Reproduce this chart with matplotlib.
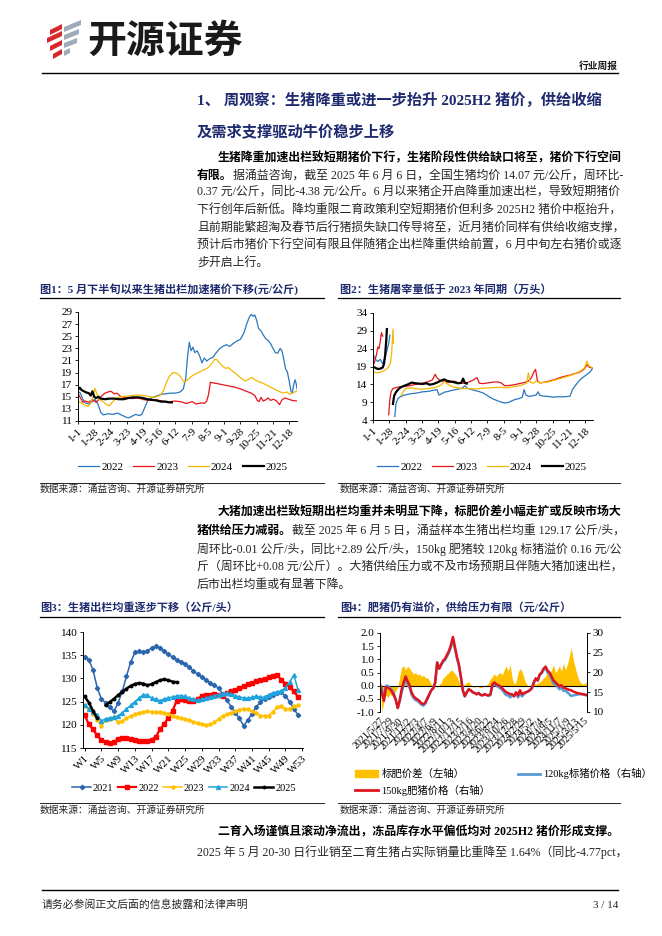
import matplotlib
matplotlib.use("Agg")
import matplotlib.pyplot as plt
import numpy as np
from matplotlib.patches import Polygon, Patch
from matplotlib.lines import Line2D

W, H = 662, 936
SERIF = ["Liberation Serif", "Noto Sans CJK SC"]
CJK = ["Noto Sans CJK SC", "DejaVu Sans"]
plt.rcParams["font.family"] = SERIF
plt.rcParams["axes.linewidth"] = 0.7

NAVY = "#1d2a6e"
TXT = "#262626"
BLUE = "#2a78bd"
RED = "#e8141b"
GOLD = "#f5b800"
LBLUE = "#1fa3dc"

# ---- chart 1: hog price by day of year (yuan/kg) ----
MD_LABELS = ["1-1", "1-28", "2-24", "3-23", "4-19", "5-16", "6-12", "7-9",
             "8-5", "9-1", "9-28", "10-25", "11-21", "12-18"]
day_p22 = [0, 4, 8, 12, 18, 24, 28, 33, 38, 42, 50, 58, 66, 72, 78, 84, 90, 96, 102, 106,
           110, 116, 122, 130, 138, 146, 154, 162, 170, 175, 179, 182, 185, 188, 191, 194,
           198, 202, 206, 210, 214, 219, 224, 230, 236, 242, 247, 252, 258, 264, 270, 276,
           281, 285, 288, 291, 294, 297, 300, 304, 308, 312, 316, 320, 324, 328, 332, 336,
           339, 342, 345, 348, 351, 354, 356, 359, 361, 363, 364]
price_2022 = [15.9, 15.6, 14.6, 14.0, 13.8, 14.2, 14.6, 13.8, 12.4, 12.0, 12.2, 12.1, 12.3,
              12.0, 11.7, 11.5, 11.8, 12.1, 11.9, 12.1, 13.0, 14.4, 14.8, 15.1, 15.4, 15.5,
              15.6, 15.6, 15.8, 16.3, 18.0, 21.5, 24.0, 22.6, 23.2, 22.3, 22.6, 21.8, 20.6,
              21.4, 20.9, 21.3, 21.5, 22.3, 23.0, 23.4, 23.6, 23.3, 23.8, 24.2, 24.5, 25.6,
              27.2, 28.2, 28.6, 28.3, 28.5, 27.6, 26.3, 25.9, 25.2, 24.6, 24.3, 23.8, 23.0,
              22.3, 22.2, 23.0, 22.6, 21.2, 19.6, 19.1, 17.6, 15.9, 15.6, 17.2, 17.8, 17.0, 16.3]
day_p23 = [0, 4, 8, 12, 18, 24, 30, 35, 40, 45, 50, 55, 60, 65, 70, 80, 90, 100, 110, 120,
           130, 140, 150, 160, 170, 180, 190, 196, 205, 210, 214, 217, 220, 224, 230, 240,
           250, 260, 270, 280, 288, 294, 298, 301, 304, 308, 312, 316, 320, 325, 330, 335,
           339, 344, 350, 356, 364]
price_2023 = [15.6, 14.8, 14.1, 14.3, 14.1, 14.5, 14.1, 14.6, 15.2, 15.6, 15.8, 15.9, 15.5,
              15.6, 15.1, 14.8, 14.7, 14.8, 14.5, 14.4, 14.5, 14.3, 14.1, 14.3, 14.2, 13.9,
              14.2, 13.8, 14.0, 13.9, 14.3, 15.4, 17.4, 17.3, 17.2, 17.0, 16.8, 16.6, 16.3,
              15.9, 15.6, 15.2, 14.4, 14.2, 14.9, 14.3, 14.5, 14.8, 14.4, 14.6, 14.3, 13.7,
              14.5, 14.8, 14.6, 14.4, 14.3]
day_p24 = [0, 5, 10, 16, 21, 25, 28, 31, 35, 40, 46, 52, 58, 64, 72, 80, 90, 100, 110, 120,
           128, 136, 142, 147, 152, 158, 164, 168, 172, 176, 180, 186, 192, 200, 208, 216,
           222, 227, 231, 235, 240, 245, 250, 255, 260, 266, 272, 278, 284, 289, 294, 300,
           306, 312, 318, 324, 330, 336, 342, 347, 352, 356, 360, 364]
price_2024 = [14.3, 14.0, 13.7, 13.4, 13.9, 15.0, 16.4, 15.6, 14.6, 14.3, 13.8, 13.5, 14.2,
              14.8, 15.0, 15.1, 15.2, 15.3, 15.2, 15.0, 14.9, 15.2, 16.0, 17.4, 18.4, 19.0,
              18.9, 18.6, 18.1, 17.4, 17.6, 18.2, 18.6, 19.0, 19.4, 19.8, 20.4, 21.2, 21.1,
              20.6, 20.1, 19.7, 19.8, 19.4, 19.0, 18.5, 18.0, 17.6, 17.9, 18.2, 17.8, 17.5,
              17.3, 17.0, 16.7, 16.4, 16.1, 15.8, 15.6, 15.8, 15.4, 15.6, 15.8, 15.9]
day_p25 = [0, 3, 6, 10, 14, 18, 21, 24, 27, 30, 34, 38, 45, 52, 60, 68, 76, 84, 92, 100,
           108, 115, 122, 130, 138, 146, 150, 156]
price_2025 = [16.2, 16.5, 16.1, 15.9, 15.7, 15.6, 15.2, 15.9, 15.0, 14.8, 15.0, 14.7, 14.6,
              14.7, 14.7, 14.6, 14.6, 14.8, 14.9, 14.9, 14.8, 14.6, 14.5, 14.4, 14.2, 14.2,
              14.1, 14.07]

# ---- chart 2: daily slaughter volume (10k head), gaps around Spring Festival ----
day_v22 = [0, 4, 8, 12, 16, 20, 23, 26, 28, 32, 36, 38, 41, 46, 52, 58, 64, 70, 76, 82, 90,
           96, 102, 106, 109, 113, 118, 124, 130, 136, 142, 148, 152, 156, 162, 168, 175,
           182, 188, 194, 200, 206, 212, 218, 224, 230, 236, 242, 247, 250, 253, 258, 264,
           270, 273, 276, 282, 290, 298, 306, 314, 322, 326, 330, 334, 340, 346, 352, 358, 364]
vol_2022 = [22.5, 21.0, 20.4, 21.0, 19.8, 21.5, 23.5, 25.5, 27.8, np.nan, 5.0, 8.5, 10.0,
            10.6, 11.0, 11.2, 11.4, 11.5, 11.7, 11.9, 12.0, 12.2, 12.4, 12.5, 11.0, 11.3,
            11.8, 12.0, 12.3, 12.5, 12.7, 13.0, 13.6, 12.9, 12.6, 12.3, 12.0, 11.6, 11.0,
            10.3, 9.8, 9.4, 9.0, 8.8, 8.9, 9.4, 9.8, 10.0, 10.4, 12.5, 11.0, 10.6, 10.8,
            11.0, 11.9, 10.9, 10.7, 10.6, 10.4, 10.5, 10.5, 10.6, 10.7, 12.5, 13.5, 14.8,
            15.8, 16.5, 17.3, 18.5]
day_v23 = [0, 3, 6, 8, 10, 12, 14, 16, 20, 26, 28, 30, 33, 38, 45, 52, 60, 68, 76, 84, 92,
           98, 103, 106, 110, 118, 126, 134, 142, 150, 158, 166, 172, 176, 182, 190, 198,
           206, 212, 218, 226, 234, 242, 250, 256, 262, 266, 269, 272, 276, 284, 292, 300,
           308, 316, 324, 332, 340, 346, 350, 354, 358, 364]
vol_2023 = [19.0, 20.5, 22.5, 24.5, 24.0, 26.0, 28.5, 27.5, np.nan, 5.5, 10.0, 12.0, 12.8,
            13.1, 13.3, 13.4, 13.6, 13.9, 14.1, 14.4, 14.8, 15.2, 16.8, 15.8, 15.2, 14.8,
            14.5, 14.9, 14.4, 14.3, 14.6, 15.2, 15.9, 14.3, 14.2, 14.4, 14.6, 14.7, 14.4,
            13.6, 13.7, 13.9, 14.2, 14.5, 14.8, 15.8, 17.4, 18.2, 15.0, 14.4, 14.6, 14.9,
            15.3, 15.8, 16.2, 16.5, 16.9, 17.3, 17.8, 18.4, 19.5, 18.8, 18.5]
day_v24 = [0, 5, 10, 15, 20, 25, 29, 31, 33, 34, 40, 46, 50, 54, 60, 70, 80, 90, 100, 108,
           114, 118, 122, 128, 134, 140, 150, 160, 170, 180, 190, 200, 210, 220, 230, 240,
           248, 254, 257, 260, 265, 270, 275, 285, 295, 305, 315, 325, 335, 345, 350, 354,
           357, 364]
vol_2024 = [17.5, 17.2, 17.3, 17.6, 18.0, 18.7, 20.0, 23.0, 29.5, 25.5, np.nan, 10.8, 12.0,
            12.8, 13.0, 12.8, 12.6, 12.8, 13.0, 13.4, 14.0, 14.9, 14.2, 13.6, 13.2, 13.0,
            12.8, 12.8, 12.7, 12.9, 13.0, 13.1, 13.2, 13.0, 13.3, 13.5, 13.9, 14.3, 17.2,
            14.6, 14.3, 14.9, 14.5, 14.5, 14.9, 15.4, 15.9, 16.4, 17.0, 17.9, 18.6, 20.5,
            19.2, 18.5]
day_v25 = [0, 4, 8, 12, 16, 18, 20, 22, 23, 28, 33, 35, 38, 42, 46, 52, 58, 64, 70, 76, 82,
           88, 94, 100, 106, 112, 118, 122, 128, 134, 140, 146, 149, 152, 155]
vol_2025 = [19.0, 18.6, 18.3, 18.4, 18.7, 19.6, 22.0, 26.5, 29.5, np.nan, 8.5, 10.8, 11.8,
            12.6, 13.2, 13.6, 14.0, 14.5, 14.3, 14.2, 14.1, 14.3, 13.9, 14.1, 14.5, 15.0,
            15.4, 15.0, 14.8, 14.6, 14.3, 14.4, 15.6, 14.4, 14.2]

# ---- chart 3: average slaughter weight by week (kg/head) ----
WEEK_LABELS = ["W%d" % w for w in range(1, 54, 4)]
wt_2021 = [134.6, 134.0, 131.8, 128.0, 125.5, 124.8, 123.8, 122.9, 124.8, 127.2, 130.5,
           133.5, 135.6, 135.8, 135.7, 136.0, 136.5, 136.9, 136.6, 135.8, 135.2, 134.6,
           134.0, 133.6, 133.1, 132.4, 131.6, 130.9, 130.3, 129.7, 129.0, 128.6, 127.9,
           126.7, 125.3, 123.9, 122.6, 121.4, 119.8, 121.0, 122.4, 123.8, 124.9, 125.5,
           126.0, 126.5, 126.9, 127.0, 126.2, 125.0, 123.5, 122.1]
wt_2022 = [122.1, 120.1, 119.0, 117.7, 116.7, 116.2, 116.1, 116.4, 116.9, 117.1, 117.1,
           116.9, 116.7, 116.6, 116.5, 116.6, 116.8, 117.4, 119.0, 120.2, 121.5, 123.0,
           125.2, 125.5, 125.3, 125.2, 125.1, 125.6, 126.2, 126.4, 126.5, 126.6, 126.4,
           126.3, 126.9, 127.3, 127.6, 127.9, 128.3, 128.7, 129.1, 129.4, 129.7, 129.9,
           130.2, 130.5, 130.8, 129.7, 128.9, 128.1, 127.2, 126.0]
wt_2023 = [124.0, 123.3, 122.3, 121.0, 119.8, 121.0, 121.3, 121.6, 120.5, 120.8, 121.4,
           121.9, 122.3, 122.6, 122.8, 122.9, 122.8, 122.7, 122.7, 122.6, 122.4, 122.0,
           121.6, 121.4, 121.2, 121.0, 120.7, 120.4, 120.2, 120.0, 120.1, 120.5, 121.3,
           121.9, 122.3, 122.6, 122.9, 123.2, 123.5, 123.3, 123.0, 122.6, 122.0, 121.9,
           122.0, 122.8, 123.8, 124.1, 123.4, 123.5, 124.0, 124.2]
wt_2024 = [124.3, 123.5, 122.8, 122.2, 120.8, 121.3, 121.5, 121.6, 121.9, 122.6, 123.4,
           124.2, 125.0, 125.7, 126.5, 126.4, 125.8, 125.5, 125.2, 125.5, 125.8, 126.0,
           126.2, 126.3, 126.1, 125.8, 125.5, 125.3, 125.5, 125.7, 126.0, 126.3, 126.5,
           126.7, 126.8, 126.6, 126.3, 126.0, 125.8, 125.7, 125.9, 126.2, 125.9, 126.0,
           126.5, 126.9, 127.1, 127.3, 128.0, 129.2, 130.7, 127.6]
wt_2025 = [126.1, 124.8, 123.0, 121.4, np.nan, 124.2, 124.9, 125.6, 126.4, 127.1, 127.8,
           128.4, 128.8, 129.0, 128.9, 128.5, 128.8, 129.2, 129.6, 129.8, 129.6, 129.3,
           129.17]

# ---- chart 4: fat/standard hog spread (left) and prices (right), biweekly from 2021/5/27 ----
DATE_LABELS = ["2021/5/27", "2021/7/29", "2021/9/30", "2021/12/2", "2022/2/3", "2022/4/7",
               "2022/6/9", "2022/8/11", "2022/10/13", "2022/12/15", "2023/2/16", "2023/4/20",
               "2023/6/22", "2023/8/24", "2023/10/26", "2023/12/28", "2024/2/29", "2024/5/2",
               "2024/7/4", "2024/9/5", "2024/11/7", "2025/1/9", "2025/3/13", "2025/5/15"]
spread = [0.15, -1.0, -0.55, -0.35, -0.45, -0.3, -0.4, -0.35, -0.2, -0.05,
          0.35, 0.7, 0.75, 0.6, 0.75, 0.65, 0.55, 0.45, 0.5, 0.4,
          0.45, 0.35, 0.4, 0.3, 0.3, 0.2, 0.05, -0.05, 0.02, -0.05,
          0.05, 0.1, 0.3, 0.35, 0.45, 0.5, 0.6, 0.55, 0.45, 0.35,
          0.15, 0.02, 0.0, 0.05, 0.12, 0.15, 0.05, -0.05, -0.05, 0.0,
          -0.05, -0.08, -0.05, 0.0, 0.02, 0.1, 0.25, 0.35, 0.45, 0.35,
          0.45, 0.5, 0.4, 0.6, 0.75, 0.55, 0.8, 0.3, 0.05, 0.15,
          0.5, 0.65, 0.55, 0.3, 0.1, 0.0, -0.03, 0.02, 0.1, 0.05,
          0.1, 0.15, 0.2, 0.3, 0.35, 0.55, 0.45, 0.6, 0.8, 0.5,
          0.6, 0.75, 0.55, 0.85, 0.6, 0.8, 1.1, 1.45, 1.0, 0.7,
          0.4, 0.2, 0.1, 0.05, 0.1, 0.16]
price_150 = [17.0, 14.8, 12.8, 16.3, 16.2, 15.8, 15.2, 14.3, 13.0, 11.0,
             13.0, 15.8, 17.5, 19.0, 17.8, 16.8, 15.0, 14.0, 13.5, 13.2,
             12.8, 12.2, 12.0, 12.4, 13.5, 14.5, 15.5, 16.0, 17.5, 22.5,
             21.0, 22.0, 23.0, 23.5, 24.5, 25.5, 27.0, 29.0, 26.5, 24.0,
             22.0, 19.0, 15.5, 14.0, 15.0, 15.8, 15.5, 15.0, 14.8, 14.5,
             14.8, 14.3, 14.2, 14.5, 14.3, 14.2, 14.5, 17.0, 17.5, 17.0,
             16.8, 16.5, 16.0, 15.5, 15.0, 14.8, 14.5, 14.5, 14.0, 15.0,
             14.2, 15.5, 14.5, 14.8, 15.0, 15.2, 15.5, 16.0, 17.5, 18.5,
             18.0, 19.5, 20.0, 21.0, 21.5, 20.5, 20.0, 19.0, 18.0, 17.5,
             17.0, 16.5, 16.8, 16.2, 16.0, 15.8, 15.6, 15.5, 15.2, 15.0,
             14.8, 14.7, 14.6, 14.5, 14.4, 14.3]
price_120 = [16.85, 15.8, 13.35, 16.65, 16.65, 16.1, 15.6, 14.65, 13.2, 11.05,
             12.65, 15.1, 16.75, 18.4, 17.05, 16.15, 14.45, 13.55, 13.0, 12.8,
             12.35, 11.85, 11.6, 12.1, 13.2, 14.3, 15.45, 16.05, 17.48, 22.55,
             20.95, 21.9, 22.7, 23.15, 24.05, 25.0, 26.4, 28.45, 26.05, 23.65,
             21.85, 18.98, 15.5, 13.95, 14.88, 15.65, 15.45, 15.05, 14.85, 14.5,
             14.85, 14.38, 14.25, 14.5, 14.28, 14.1, 14.25, 16.65, 17.05, 16.65,
             16.35, 16.0, 15.6, 14.9, 14.25, 14.25, 13.7, 14.2, 13.95, 14.85,
             13.7, 14.85, 13.95, 14.5, 14.9, 15.2, 15.53, 15.98, 17.4, 18.45,
             17.9, 19.35, 19.8, 20.7, 21.15, 19.95, 19.55, 18.4, 17.2, 17.0,
             16.4, 15.75, 16.25, 15.35, 15.4, 15.0, 14.5, 14.05, 14.2, 14.3,
             14.4, 14.5, 14.5, 14.45, 14.3, 14.14]


def rect(l, t, r, b):
    return [l / W, 1 - b / H, (r - l) / W, (b - t) / H]


def base_style(ax):
    ax.spines["top"].set_visible(False)
    ax.spines["right"].set_visible(False)
    ax.tick_params(labelsize=8, length=2.5, width=0.6, direction="out", pad=1.5)


fig = plt.figure(figsize=(6.62, 9.36), dpi=100)
bg = fig.add_axes([0, 0, 1, 1])
bg.set_xlim(0, W)
bg.set_ylim(H, 0)
bg.axis("off")

# header / logo
red_bars = [[(50, 30), (62, 24), (62, 29), (50, 35)],
            [(47, 38), (62, 31), (62, 36), (47, 43)],
            [(50, 46), (62, 40), (62, 45), (50, 51)],
            [(53, 54), (62, 49), (62, 54), (53, 59)]]
grey_bars = [[(64, 27), (81, 20), (81, 25), (64, 32)],
             [(64, 35), (79, 29), (79, 34), (64, 40)],
             [(64, 43), (77, 38), (77, 43), (64, 48)],
             [(64, 51), (70, 48), (70, 53), (64, 56)]]
for pts in red_bars:
    bg.add_patch(Polygon(pts, closed=True, color="#d8282d", lw=0))
for pts in grey_bars:
    bg.add_patch(Polygon(pts, closed=True, color="#9eabb8", lw=0))
bg.text(87, 41, "开源证券", fontsize=28, weight="bold", family=CJK, va="center",
        color="#1a1a1a")
bg.text(618, 66, "行业周报", fontsize=7, weight="bold", family=CJK, ha="right",
        va="center", color="#1a1a1a")
bg.plot([42, 618], [73, 73], color="black", lw=1.0)

# section heading
bg.text(197, 100, "1、 周观察：生猪降重或进一步抬升 2025H2 猪价，供给收缩", fontsize=11,
        weight="bold", va="center", color=NAVY)
bg.text(197, 133, "及需求支撑驱动牛价稳步上移", fontsize=11, weight="bold", va="center",
        color=NAVY)

BODY = 8.6


def para_line(x, y, bold="", normal=""):
    t = None
    if bold:
        t = bg.text(x, y, bold, fontsize=BODY, weight="bold", va="center", color="black")
    if normal:
        if t is None:
            bg.text(x, y, normal, fontsize=BODY, va="center", color=TXT)
        else:
            bg.annotate(normal, xy=(1, 0.5), xycoords=t, va="center", ha="left",
                        fontsize=BODY, color=TXT)


para_line(218, 158, "生猪降重加速出栏致短期猪价下行，生猪阶段性供给缺口将至，猪价下行空间")
para_line(197, 176, "有限。", "据涌益咨询，截至 2025 年 6 月 6 日，全国生猪均价 14.07 元/公斤，周环比-")
para_line(197, 193, "", "0.37 元/公斤，同比-4.38 元/公斤。6 月以来猪企开启降重加速出栏，导致短期猪价")
para_line(197, 211, "", "下行创年后新低。降均重限二育政策利空短期猪价但利多 2025H2 猪价中枢抬升，")
para_line(197, 229, "", "且前期能繁超淘及春节后行猪损失缺口传导将至，近月猪价同样有供给收缩支撑，")
para_line(197, 246, "", "预计后市猪价下行空间有限且伴随猪企出栏降重供给前置，6 月中旬左右猪价或逐")
para_line(197, 264, "", "步开启上行。")

para_line(218, 512, "大猪加速出栏致短期出栏均重并未明显下降，标肥价差小幅走扩或反映市场大")
para_line(197, 531, "猪供给压力减弱。", "截至 2025 年 6 月 5 日，涌益样本生猪出栏均重 129.17 公斤/头，")
para_line(197, 549, "", "周环比-0.01 公斤/头，同比+2.89 公斤/头，150kg 肥猪较 120kg 标猪溢价 0.16 元/公")
para_line(197, 567, "", "斤（周环比+0.08 元/公斤）。大猪供给压力或不及市场预期且伴随大猪加速出栏，")
para_line(197, 585, "", "后市出栏均重或有显著下降。")

para_line(218, 832, "二育入场谨慎且滚动净流出，冻品库存水平偏低均对 2025H2 猪价形成支撑。")
para_line(197, 852, "", "2025 年 5 月 20-30 日行业销至二育生猪占实际销量比重降至 1.64%（同比-4.77pct，")

# figure titles, rules and sources
TITLES = [(40, 289, "图1：5 月下半旬以来生猪出栏加速猪价下移(元/公斤)"),
          (340, 289, "图2：生猪屠宰量低于 2023 年同期（万头）"),
          (40, 607, "图3：生猪出栏均重逐步下移（公斤/头）"),
          (340, 607, "图4：肥猪仍有溢价，供给压力有限（元/公斤）")]
for x, y, s in TITLES:
    bg.text(x, y, s, fontsize=8, weight="bold", va="center", color=NAVY)
for y in (298, 617):
    bg.plot([40, 324], [y, y], color="black", lw=0.9)
    bg.plot([338, 620], [y, y], color="black", lw=0.9)
for y_rule, y_src in ((483, 489), (803, 810)):
    bg.plot([40, 324], [y_rule, y_rule], color="black", lw=0.6)
    bg.plot([338, 620], [y_rule, y_rule], color="black", lw=0.6)
    for x in (40, 340):
        bg.text(x, y_src, "数据来源：涌益咨询、开源证券研究所", fontsize=7, va="center",
                color=TXT)

# footer
bg.plot([42, 618], [890, 890], color="black", lw=1.0)
bg.text(42, 905, "请务必参阅正文后面的信息披露和法律声明", fontsize=7.8, va="center", color=TXT)
bg.text(618, 905, "3 / 14", fontsize=8, ha="right", va="center", color=TXT)

LEG = dict(frameon=False, fontsize=8, handlelength=1.9, handletextpad=0.2,
           columnspacing=0.85)

# ---- chart 1 ----
ax1 = fig.add_axes(rect(78, 312, 297, 421))
base_style(ax1)
ax1.plot(day_p22, price_2022, color=BLUE, lw=0.9, label="2022")
ax1.plot(day_p23, price_2023, color=RED, lw=0.9, label="2023")
ax1.plot(day_p24, price_2024, color=GOLD, lw=0.9, label="2024")
ax1.plot(day_p25, price_2025, color="black", lw=1.6, label="2025")
ax1.set_xlim(0, 364)
ax1.set_ylim(11, 29)
ax1.set_yticks(range(11, 30, 2))
ax1.set_xticks(np.arange(len(MD_LABELS)) * 27)
ax1.set_xticklabels(MD_LABELS, rotation=45, ha="right", rotation_mode="anchor")
fig.legend(*ax1.get_legend_handles_labels(), loc="center", bbox_to_anchor=(183 / W, 1 - 467 / H),
           ncol=4, **LEG)

# ---- chart 2 ----
ax2 = fig.add_axes(rect(373, 313, 593, 420))
base_style(ax2)
ax2.plot(day_v22, vol_2022, color=BLUE, lw=0.9, label="2022")
ax2.plot(day_v23, vol_2023, color=RED, lw=0.9, label="2023")
ax2.plot(day_v24, vol_2024, color=GOLD, lw=0.9, label="2024")
ax2.plot(day_v25, vol_2025, color="black", lw=1.6, label="2025")
ax2.set_xlim(0, 364)
ax2.set_ylim(4, 34)
ax2.set_yticks(range(4, 35, 5))
ax2.set_xticks(np.arange(len(MD_LABELS)) * 27)
ax2.set_xticklabels(MD_LABELS, rotation=45, ha="right", rotation_mode="anchor")
fig.legend(*ax2.get_legend_handles_labels(), loc="center", bbox_to_anchor=(482 / W, 1 - 467 / H),
           ncol=4, **LEG)

# ---- chart 3 ----
ax3 = fig.add_axes(rect(83, 632, 303, 748))
base_style(ax3)
weeks = np.arange(1, 53)
ax3.plot(weeks, wt_2021, color="#2b66ad", lw=1.1, marker="D", ms=2.2, label="2021")
ax3.plot(weeks, wt_2022, color="#ff0000", lw=1.6, marker="s", ms=3.2, label="2022")
ax3.plot(weeks, wt_2023, color="#ffc000", lw=1.1, marker="o", ms=2.2, label="2023")
ax3.plot(weeks, wt_2024, color=LBLUE, lw=1.1, marker="^", ms=2.8, label="2024")
ax3.plot(np.arange(1, len(wt_2025) + 1), wt_2025, color="black", lw=1.8, marker="o", ms=1.8,
         label="2025")
ax3.set_xlim(0.6, 53.2)
ax3.set_ylim(115, 140)
ax3.set_yticks(range(115, 141, 5))
ax3.set_xticks(range(1, 54, 4))
ax3.set_xticklabels(WEEK_LABELS, rotation=45, ha="right", rotation_mode="anchor")
fig.legend(*ax3.get_legend_handles_labels(), loc="center", bbox_to_anchor=(184 / W, 1 - 788 / H),
           ncol=5, frameon=False, fontsize=7.5, handlelength=1.8, handletextpad=0.2,
           columnspacing=0.4)

# ---- chart 4 ----
ax4 = fig.add_axes(rect(380, 633, 587, 712))
x4 = np.arange(len(spread)) * 14
ax4.fill_between(x4, 0, spread, color="#ffc000", lw=0)
ax4.axhline(0, color="black", lw=0.8)
ax4.set_xlim(0, 1470)
ax4.set_ylim(-1.0, 2.0)
ax4.set_yticks(np.arange(-1.0, 2.01, 0.5))
ax4.set_yticklabels(["%.1f" % v for v in np.arange(-1.0, 2.01, 0.5)])
ax4.spines["top"].set_visible(False)
ax4.spines["bottom"].set_visible(False)
ax4.tick_params(axis="y", labelsize=8, length=2.5, width=0.6, pad=1.5)
ax4.set_xticks(np.arange(len(DATE_LABELS)) * 63)
ax4.set_xticklabels(DATE_LABELS, rotation=45, ha="right", rotation_mode="anchor")
ax4.tick_params(axis="x", labelsize=7.2, length=0, pad=3)
ax4r = ax4.twinx()
ax4r.plot(x4, price_120, color="#5b9bd5", lw=1.8)
ax4r.plot(x4, price_150, color="#e0141e", lw=1.8)
ax4r.set_ylim(10, 30)
ax4r.set_yticks(range(10, 31, 5))
ax4r.spines["top"].set_visible(False)
ax4r.spines["bottom"].set_visible(False)
ax4r.tick_params(axis="y", labelsize=8, length=2.5, width=0.6, pad=1.5)
h4 = [Patch(color="#ffc000"), Line2D([], [], color="#e0141e", lw=2),
      Line2D([], [], color="#5b9bd5", lw=2)]
l4 = ["标肥价差（左轴）", "150kg肥猪价格（右轴）", "120kg标猪价格（右轴）"]
fig.legend(h4, l4, loc="upper left", bbox_to_anchor=(346 / W, 1 - 759 / H), ncol=2,
           frameon=False, fontsize=7.5, handlelength=2.2, handletextpad=0.3,
           columnspacing=2.6, labelspacing=0.5)

fig.savefig("out.png", dpi=100)
